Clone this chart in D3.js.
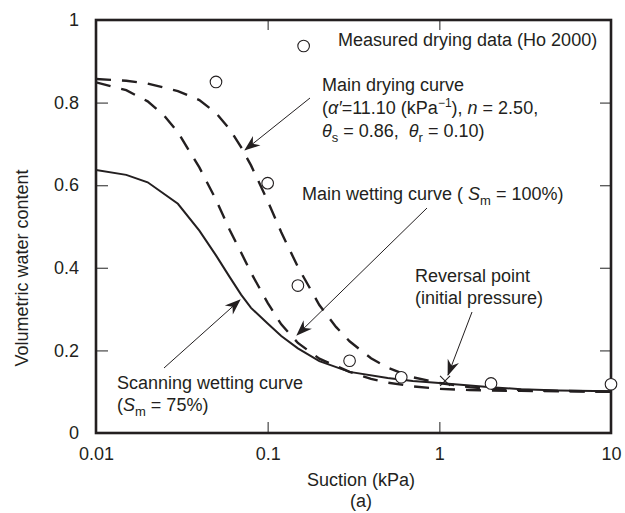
<!DOCTYPE html>
<html>
<head>
<meta charset="utf-8">
<script src="https://cdn.jsdelivr.net/npm/d3@7"></script>
<style>
  body { margin: 0; background: #fff; }
  svg text { font-family: "Liberation Sans", Arial, Helvetica, sans-serif; fill: #231f20; white-space: pre; }
  .tick line { stroke: #555; stroke-width: 1.3; }
  .tick text { font-size: 18px; }
  .domain { display: none; }
</style>
</head>
<body>
<svg id="chart"></svg>
<script>
// suction (kPa) and volumetric water content
const dryingSuction = [0.01, 0.015, 0.02, 0.03, 0.04, 0.05, 0.06, 0.07, 0.08, 0.1, 0.12, 0.15, 0.2, 0.25, 0.3, 0.4, 0.5, 0.7, 1, 1.5, 2, 3, 5, 10];
const dryingTheta = [0.857, 0.853, 0.846, 0.828, 0.806, 0.775, 0.736, 0.692, 0.648, 0.562, 0.486, 0.402, 0.31, 0.257, 0.222, 0.181, 0.158, 0.135, 0.121, 0.111, 0.107, 0.104, 0.102, 0.1];

const wettingSuction = [0.01, 0.015, 0.02, 0.025, 0.03, 0.04, 0.05, 0.06, 0.07, 0.08, 0.1, 0.12, 0.15, 0.2, 0.3, 0.4, 0.5, 0.7, 1, 1.5, 2, 3, 5, 10];
const wettingTheta = [0.849, 0.83, 0.803, 0.768, 0.728, 0.643, 0.565, 0.492, 0.437, 0.388, 0.315, 0.263, 0.218, 0.18, 0.148, 0.131, 0.122, 0.113, 0.107, 0.104, 0.103, 0.102, 0.101, 0.1];

const scanSuction = [0.01, 0.015, 0.02, 0.03, 0.04, 0.05, 0.06, 0.07, 0.08, 0.1, 0.12, 0.15, 0.2, 0.3, 0.5, 0.7, 1, 2, 3, 5, 10];
const scanTheta = [0.637, 0.625, 0.607, 0.555, 0.49, 0.43, 0.378, 0.335, 0.303, 0.265, 0.235, 0.205, 0.174, 0.148, 0.133, 0.126, 0.121, 0.111, 0.106, 0.103, 0.101];

const measuredSuction = [0.05, 0.1, 0.15, 0.3, 0.6, 2, 10];
const measuredTheta = [0.85, 0.605, 0.357, 0.175, 0.135, 0.12, 0.118];

const reversalPoint = [1.08, 0.126];
const legendMarker = [0.162, 0.937];

const xTicks = [0.01, 0.1, 1, 10];
const xTickLabels = ["0.01", "0.1", "1", "10"];
const yTicks = [0, 0.2, 0.4, 0.6, 0.8, 1];
const yTickLabels = ["0", "0.2", "0.4", "0.6", "0.8", "1"];

const W = 625, H = 513;
const margin = { top: 20, right: 14, bottom: 80, left: 96 };

const svg = d3.select("#chart").attr("width", W).attr("height", H);

const x = d3.scaleLog().domain([0.01, 10]).range([margin.left, W - margin.right]);
const y = d3.scaleLinear().domain([0, 1]).range([H - margin.bottom, margin.top]);

svg.append("defs").append("clipPath").attr("id", "plotClip")
  .append("rect")
  .attr("x", margin.left).attr("y", margin.top)
  .attr("width", W - margin.left - margin.right)
  .attr("height", H - margin.top - margin.bottom);

svg.select("defs").append("marker")
  .attr("id", "arrow")
  .attr("markerUnits", "userSpaceOnUse")
  .attr("viewBox", "-16 -7 18 14")
  .attr("markerWidth", 18).attr("markerHeight", 14)
  .attr("refX", 0).attr("refY", 0)
  .attr("orient", "auto")
  .append("path")
  .attr("d", "M1,0 L-15,-6 L-10,0 L-15,6 Z")
  .attr("fill", "#231f20");

// axes (ticks point inward)
svg.append("g")
  .attr("transform", "translate(0," + y(0) + ")")
  .call(d3.axisBottom(x).tickValues(xTicks)
    .tickFormat((d, i) => xTickLabels[i])
    .tickSizeInner(-11).tickSizeOuter(0).tickPadding(14))
  .call((g) => g.selectAll(".tick").filter((d) => d === 0.01 || d === 10).select("line").remove());

svg.append("g")
  .attr("transform", "translate(0," + y(1) + ")")
  .call(d3.axisTop(x).tickValues([0.1, 1]).tickFormat("")
    .tickSizeInner(-10).tickSizeOuter(0));

svg.append("g")
  .attr("transform", "translate(" + x(0.01) + ",0)")
  .call(d3.axisLeft(y).tickValues(yTicks)
    .tickFormat((d, i) => yTickLabels[i])
    .tickSizeInner(-12).tickSizeOuter(0).tickPadding(17))
  .call((g) => g.selectAll(".tick").filter((d) => d === 0 || d === 1).select("line").remove());

svg.append("g")
  .attr("transform", "translate(" + x(10) + ",0)")
  .call(d3.axisRight(y).tickValues([0.2, 0.4, 0.6, 0.8]).tickFormat("")
    .tickSizeInner(-11).tickSizeOuter(0));

// frame
svg.append("rect")
  .attr("x", x(0.01)).attr("y", y(1))
  .attr("width", x(10) - x(0.01))
  .attr("height", y(0) - y(1))
  .attr("fill", "none")
  .attr("stroke", "#231f20")
  .attr("stroke-width", 2.6);

// axis titles
svg.append("text")
  .attr("text-anchor", "middle")
  .attr("transform", "translate(28,268) rotate(-90)")
  .style("font-size", "18px")
  .text("Volumetric water content");

svg.append("text")
  .attr("text-anchor", "middle")
  .attr("x", 361).attr("y", 486)
  .style("font-size", "18px")
  .text("Suction (kPa)");

svg.append("text")
  .attr("text-anchor", "middle")
  .attr("x", 361).attr("y", 507)
  .style("font-size", "18px")
  .text("(a)");

// curves
const line = d3.line()
  .x((d) => x(d[0]))
  .y((d) => y(d[1]));

const plot = svg.append("g").attr("clip-path", "url(#plotClip)");

plot.append("path")
  .datum(d3.zip(dryingSuction, dryingTheta))
  .attr("d", line)
  .attr("fill", "none")
  .attr("stroke", "#231f20")
  .attr("stroke-width", 2.4)
  .attr("stroke-dasharray", "15,11");

plot.append("path")
  .datum(d3.zip(wettingSuction, wettingTheta))
  .attr("d", line)
  .attr("fill", "none")
  .attr("stroke", "#231f20")
  .attr("stroke-width", 2.4)
  .attr("stroke-dasharray", "15,11");

plot.append("path")
  .datum(d3.zip(scanSuction, scanTheta))
  .attr("d", line)
  .attr("fill", "none")
  .attr("stroke", "#231f20")
  .attr("stroke-width", 2);

// measured data
svg.append("g")
  .selectAll("circle")
  .data(d3.zip(measuredSuction, measuredTheta).concat([legendMarker]))
  .join("circle")
  .attr("cx", (d) => x(d[0]))
  .attr("cy", (d) => y(d[1]))
  .attr("r", 5.8)
  .attr("fill", "#fff")
  .attr("stroke", "#231f20")
  .attr("stroke-width", 1.1);

// reversal point cross
const rx = x(reversalPoint[0]), ry = y(reversalPoint[1]);
svg.append("path")
  .attr("d", `M${rx - 5},${ry - 5}L${rx + 5},${ry + 5}M${rx - 5},${ry + 5}L${rx + 5},${ry - 5}`)
  .attr("stroke", "#231f20")
  .attr("stroke-width", 1.1);

// annotations
function label(xPos, yPos, parts) {
  const t = svg.append("text").attr("x", xPos).attr("y", yPos).style("font-size", "18px");
  parts.forEach((p) => {
    if (typeof p === "string") {
      t.append("tspan").text(p);
      return;
    }
    const s = t.append("tspan").text(p.t);
    if (p.i) s.style("font-style", "italic");
    if (p.sub) s.style("font-size", "13px").attr("dy", 5);
    if (p.sup) s.style("font-size", "12px").attr("dy", -7);
    if (p.back) s.attr("dy", p.back);
  });
  return t;
}

label(338, 46, ["Measured drying data (Ho 2000)"]);
label(322, 91, ["Main drying curve"]);
label(322, 114, ["(", { t: "α′", i: true }, "=11.10 (kPa", { t: "−1", sup: true }, { t: ")", back: 7 }, ", ", { t: "n", i: true }, " = 2.50,"]);
label(322, 137, [{ t: "θ", i: true }, { t: "s", sub: true }, { t: " = 0.86,  ", back: -5 }, { t: "θ", i: true }, { t: "r", sub: true }, { t: " = 0.10)", back: -5 }]);
label(302, 200, ["Main wetting curve ( ", { t: "S", i: true }, { t: "m", sub: true }, { t: " = 100%)", back: -5 }]);
label(415, 282, ["Reversal point"]);
label(415, 304, ["(initial pressure)"]);
label(117, 389, ["Scanning wetting curve"]);
label(117, 411, ["(", { t: "S", i: true }, { t: "m", sub: true }, { t: " = 75%)", back: -5 }]);

const leaders = [
  [310, 98, 245, 150],
  [427, 208, 297, 335],
  [472, 312, 448, 375],
  [164, 368, 240, 300]
];

svg.append("g")
  .selectAll("line")
  .data(leaders)
  .join("line")
  .attr("x1", (d) => d[0]).attr("y1", (d) => d[1])
  .attr("x2", (d) => d[2]).attr("y2", (d) => d[3])
  .attr("stroke", "#231f20")
  .attr("stroke-width", 1)
  .attr("marker-end", "url(#arrow)");
</script>
</body>
</html>
